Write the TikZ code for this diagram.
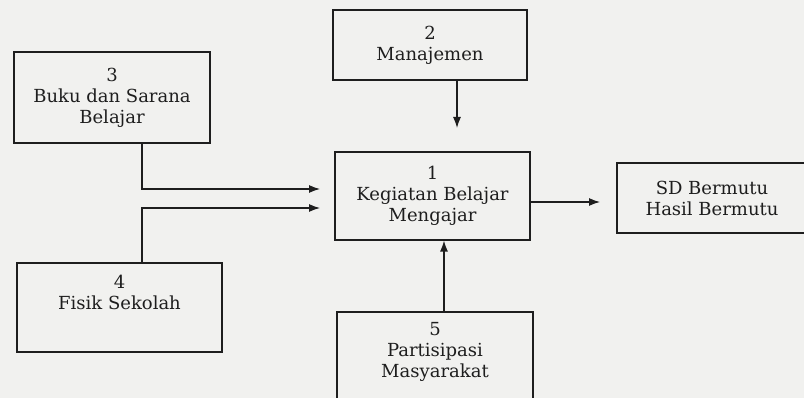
\documentclass[tikz,border=0pt]{standalone}
\usepackage{fontspec}
\setmainfont{DejaVu Serif}
\usetikzlibrary{arrows.meta}
\definecolor{paper}{RGB}{241,241,239}
\definecolor{ink}{RGB}{30,30,30}
\begin{document}
\begin{tikzpicture}[x=1pt,y=-1pt,
  boxtext/.style={align=center, font=\fontsize{18}{21}\selectfont, text=ink},
  box/.style={draw=ink, line width=1.2pt, boxtext, inner sep=0pt},
  arr/.style={draw=ink, line width=1.2pt, -{Latex[length=11pt,width=8pt]}}]
\fill[paper] (0,0) rectangle (804,398);
\useasboundingbox (0,0) rectangle (804,398);
\clip (0,0) rectangle (804,398);
\node[box, minimum width=194pt, minimum height=70pt] (b2) at (430,45) {2\\Manajemen};
\node[box, minimum width=196pt, minimum height=91pt] (b3) at (112,97.5) {3\\Buku dan Sarana\\Belajar};
\node[box, minimum width=195pt, minimum height=88pt] (b1) at (432.5,196) {1\\Kegiatan Belajar\\Mengajar};
\node[box, minimum width=190pt, minimum height=70pt] (sd) at (712,198) {SD Bermutu\\Hasil Bermutu};
\node[box, minimum width=205pt, minimum height=89pt,
  label={[boxtext, anchor=north, inner sep=0pt, yshift=-13pt]north:{4\\Fisik Sekolah}}] (b4) at (119.5,307.5) {};
\node[box, minimum width=196pt, minimum height=118pt,
  label={[boxtext, anchor=north, inner sep=0pt, yshift=-11pt]north:{5\\Partisipasi\\Masyarakat}}] (b5) at (435,371) {};
\coordinate (c2) at (457,128);
\draw[arr] (b2.south -| c2) -- (c2);
\coordinate (c3) at (320,189);
\draw[arr] ([xshift=30pt]b3.south) |- (c3);
\coordinate (c4) at (320,208);
\draw[arr] ([xshift=22.5pt]b4.north) |- (c4);
\coordinate (c1) at (600,202);
\draw[arr] (b1.east |- c1) -- (c1);
\draw[arr] ([xshift=9pt]b5.north) -- ([xshift=11.5pt]b1.south);
\end{tikzpicture}
\end{document}
